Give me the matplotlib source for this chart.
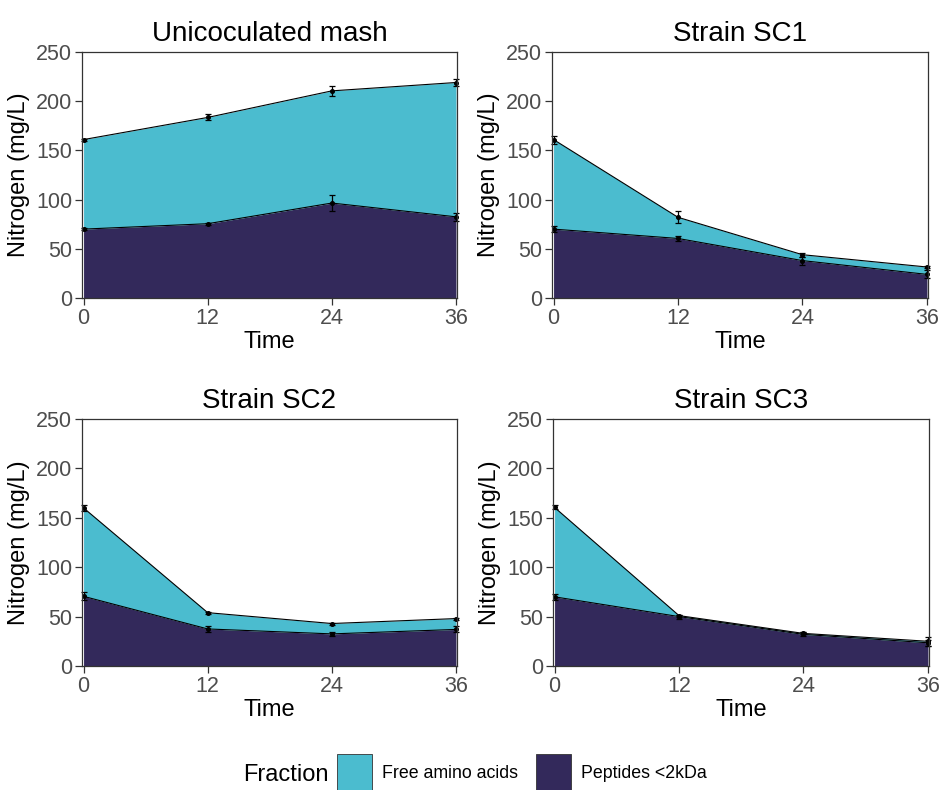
import numpy as np
import matplotlib
matplotlib.use("Agg")
import matplotlib.pyplot as plt
from matplotlib.patches import Patch

plt.rcParams["font.family"] = ["Liberation Sans", "DejaVu Sans"]

# ----- datos -----
tiempo = [0, 12, 24, 36]
titulos = ["Unicoculated mash", "Strain SC1", "Strain SC2", "Strain SC3"]
fracciones = ["Free amino acids", "Peptides <2kDa"]

peptidos = [
    [70, 75.5, 96.5, 82.5],
    [70, 60.5, 38, 24],
    [70.5, 37.5, 32.5, 37],
    [70, 50, 32, 23.5],
]
aminoacidos = [
    [91, 108, 114, 136.5],
    [91, 21.5, 6, 7.5],
    [89.5, 16.5, 10.5, 11],
    [90.5, 1, 1, 1.5],
]
err_peptidos = [
    [1, 1, 8, 4],
    [3, 3, 4, 4],
    [4, 3, 2, 3],
    [3, 2, 2, 3],
]
err_total = [
    [1, 3, 5, 3.5],
    [4, 6, 2, 1],
    [3, 1, 1, 1],
    [2, 1, 1, 4.5],
]

C_AA = "#4BBCCF"
C_PEP = "#33295B"
GRIS = "#4D4D4D"

W, H = 939, 790
fig = plt.figure(figsize=(W / 100, H / 100), dpi=100)

# posiciones de paneles en píxeles: (izq, der, arriba, abajo)
cajas = [(82, 457, 52, 298), (552, 928, 52, 298),
         (82, 457, 419, 666), (553, 929, 419, 666)]

for i, (l, r, t, b) in enumerate(cajas):
    ax = fig.add_axes([l / W, (H - b) / H, (r - l) / W, (b - t) / H])
    pep = np.array(peptidos[i])
    tot = pep + np.array(aminoacidos[i])
    ax.fill_between(tiempo, 0, pep, color=C_PEP, lw=0)
    ax.fill_between(tiempo, pep, tot, color=C_AA, lw=0)
    ax.plot(tiempo, pep, color="black", lw=0.8)
    ax.plot(tiempo, tot, color="black", lw=0.8)
    for y, e in ((pep, err_peptidos[i]), (tot, err_total[i])):
        ax.errorbar(tiempo, y, yerr=e, fmt="o", ms=2.6, color="black",
                    elinewidth=0.9, capsize=2, capthick=0.9, clip_on=False)
    ax.set_xlim(-0.15, 36.1)
    ax.set_ylim(0, 250)
    ax.set_xticks(tiempo)
    ax.set_yticks([0, 50, 100, 150, 200, 250])
    ax.tick_params(labelsize=15.5, labelcolor=GRIS, color="#333333",
                   length=5, width=0.9, pad=2)
    for s in ax.spines.values():
        s.set_color("#333333")
        s.set_linewidth(0.9)
    ax.set_title(titulos[i], fontsize=20, pad=8)
    ax.set_xlabel("Time", fontsize=17, labelpad=2)
    ax.set_ylabel("Nitrogen (mg/L)", fontsize=17, labelpad=4)

# leyenda inferior
fig.text(243 / W, (H - 775) / H, "Fraction", fontsize=17, va="center", ha="left")
handles = [Patch(facecolor=C_AA, edgecolor="#333333", lw=0.6),
           Patch(facecolor=C_PEP, edgecolor="#333333", lw=0.6)]
fig.legend(handles, fracciones, loc="center", ncol=2, frameon=False,
           bbox_to_anchor=(522 / W, (H - 773) / H), fontsize=12.8,
           handlelength=1.95, handleheight=2.9, handletextpad=0.6,
           columnspacing=1.0, borderpad=0)

fig.savefig("out.png", dpi=100)
